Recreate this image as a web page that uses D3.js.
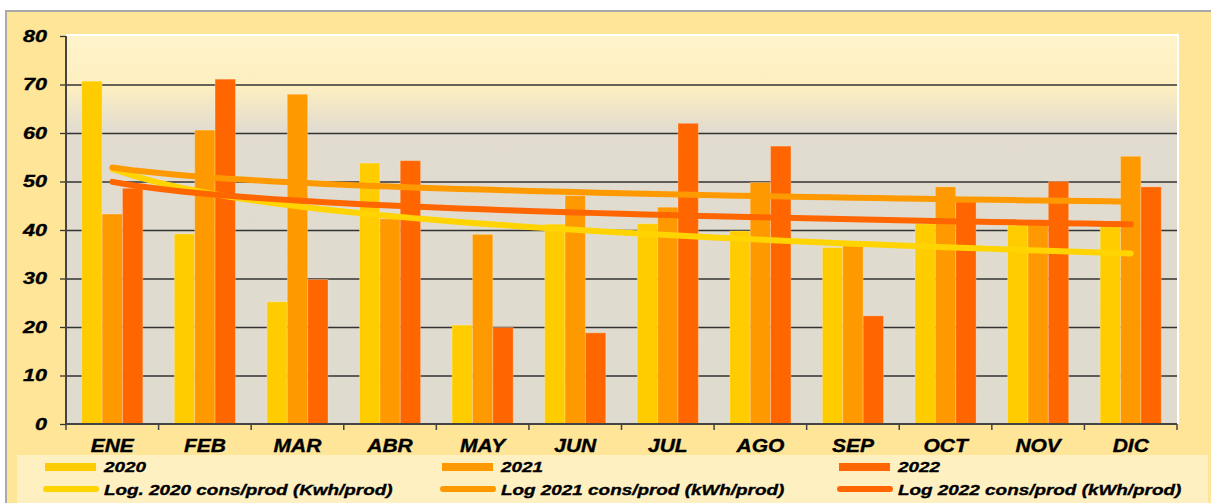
<!DOCTYPE html>
<html>
<head>
<meta charset="utf-8">
<script src="https://cdn.jsdelivr.net/npm/d3@7"></script>
<style>
  body { margin: 0; background: #fff; }
  text { font-family: "Liberation Sans", Arial, sans-serif; font-weight: bold; font-style: italic; fill: #000; stroke: #000; stroke-width: 0.35px; }
</style>
</head>
<body>
<div id="viz"></div>
<script>
(function () {
  var months = ['ENE', 'FEB', 'MAR', 'ABR', 'MAY', 'JUN', 'JUL', 'AGO', 'SEP', 'OCT', 'NOV', 'DIC'];
  var years = ['2020', '2021', '2022'];
  var v2020 = [70.7, 39.2, 25.2, 53.8, 20.4, 41.2, 41.3, 39.8, 36.4, 41.3, 41.0, 40.7];
  var v2021 = [43.3, 60.6, 68.0, 42.3, 39.1, 47.1, 44.7, 49.8, 37.2, 48.9, 41.8, 55.2];
  var v2022 = [48.6, 71.1, 29.8, 54.3, 19.9, 18.8, 62.0, 57.3, 22.3, 45.8, 50.0, 48.9];
  var yTicks = [0, 10, 20, 30, 40, 50, 60, 70, 80];
  var trendLabels = ['Log. 2020 cons/prod (Kwh/prod)', 'Log 2021 cons/prod (kWh/prod)', 'Log 2022 cons/prod (kWh/prod)'];

  var series = [v2020, v2021, v2022];
  var barColors = ['#FFCC00', '#FF9900', '#FF6600'];
  var trendColors = ['#FFD400', '#FF9900', '#FF6600'];

  var width = 1211, height = 503;
  var plot = {left: 66, right: 1177, top: 36, bottom: 424};

  var svg = d3.select('#viz').append('svg')
    .attr('width', width)
    .attr('height', height);

  var defs = svg.append('defs');
  var grad = defs.append('linearGradient')
    .attr('id', 'plotbg')
    .attr('x1', 0).attr('y1', 0).attr('x2', 0).attr('y2', 1);
  grad.append('stop').attr('offset', '0').attr('stop-color', '#FFF3CA');
  grad.append('stop').attr('offset', '0.13').attr('stop-color', '#FEEFC0');
  grad.append('stop').attr('offset', '0.24').attr('stop-color', '#E1DCCF');
  grad.append('stop').attr('offset', '1').attr('stop-color', '#E0DBCF');

  // outer frame
  svg.append('rect')
    .attr('x', 6).attr('y', 11)
    .attr('width', width).attr('height', height)
    .attr('fill', '#FFE597')
    .attr('stroke', '#A9A9A9')
    .attr('stroke-width', 2);

  var x = d3.scaleBand()
    .domain(months)
    .range([plot.left, plot.right])
    .paddingInner(0.34)
    .paddingOuter(0.17);

  var xYear = d3.scaleBand()
    .domain(years)
    .range([0, x.bandwidth()]);

  var y = d3.scaleLinear()
    .domain([0, 80])
    .range([plot.bottom, plot.top]);

  // plot background
  svg.append('rect')
    .attr('x', plot.left).attr('y', plot.top)
    .attr('width', plot.right - plot.left)
    .attr('height', plot.bottom - plot.top)
    .attr('fill', 'url(#plotbg)');
  svg.append('path')
    .attr('d', 'M' + plot.left + ',' + (plot.top - 1) + 'H' + (plot.right + 1) + 'V' + plot.bottom)
    .attr('fill', 'none')
    .attr('stroke', '#fff')
    .attr('stroke-width', 2);

  // grid + y axis
  svg.append('g')
    .selectAll('line')
    .data(yTicks.filter(function(d){ return d > 0 && d < 80; }))
    .enter().append('line')
    .attr('x1', plot.left).attr('x2', plot.right)
    .attr('y1', function(d){ return y(d) + 0.5; })
    .attr('y2', function(d){ return y(d) + 0.5; })
    .attr('stroke', '#333')
    .attr('stroke-width', 1.3);

  svg.append('g')
    .selectAll('line')
    .data(yTicks)
    .enter().append('line')
    .attr('x1', plot.left - 6).attr('x2', plot.left)
    .attr('y1', function(d){ return y(d) + 0.5; })
    .attr('y2', function(d){ return y(d) + 0.5; })
    .attr('stroke', '#333')
    .attr('stroke-width', 1.3);

  svg.append('g')
    .selectAll('text')
    .data(yTicks)
    .enter().append('text')
    .attr('transform', function(d){ return 'translate(47,' + (y(d) + 5.5) + ') scale(1.35,1)'; })
    .attr('text-anchor', 'end')
    .style('font-size', '16px')
    .text(function(d){ return d; });

  // bars
  var groups = svg.append('g')
    .selectAll('g')
    .data(months)
    .enter().append('g')
    .attr('transform', function(d){ return 'translate(' + x(d) + ',0)'; });

  groups.selectAll('rect')
    .data(function(m, i){ return years.map(function(yr, j){ return {year: yr, value: series[j][i], k: j}; }); })
    .enter().append('rect')
    .attr('x', function(d){ return xYear(d.year); })
    .attr('width', xYear.bandwidth())
    .attr('y', function(d){ return y(d.value); })
    .attr('height', function(d){ return y(0) - y(d.value); })
    .attr('fill', function(d){ return barColors[d.k]; })
    .attr('stroke', 'rgba(255,255,255,0.25)')
    .attr('stroke-width', 1);

  // axes lines
  svg.append('line')
    .attr('x1', plot.left).attr('x2', plot.left)
    .attr('y1', plot.top).attr('y2', plot.bottom)
    .attr('stroke', '#444').attr('stroke-width', 2);
  svg.append('line')
    .attr('x1', plot.left).attr('x2', plot.right)
    .attr('y1', plot.bottom).attr('y2', plot.bottom)
    .attr('stroke', '#444').attr('stroke-width', 2);

  var step = x.step();
  var bounds = months.map(function(m){ return x(m) - step * x.paddingInner() / 2; });
  bounds.push(plot.right);
  svg.append('g')
    .selectAll('line')
    .data(bounds)
    .enter().append('line')
    .attr('x1', function(d){ return d; }).attr('x2', function(d){ return d; })
    .attr('y1', plot.bottom).attr('y2', plot.bottom + 6)
    .attr('stroke', '#444').attr('stroke-width', 1.5);

  svg.append('g')
    .selectAll('text')
    .data(months)
    .enter().append('text')
    .attr('transform', function(d){ return 'translate(' + (x(d) + x.bandwidth() / 2) + ',452) scale(1.2,1)'; })
    .attr('text-anchor', 'middle')
    .style('font-size', '17.5px')
    .text(function(d){ return d; });

  // logarithmic trend lines (least squares on ln(x))
  function logFit(vals){
    var lx = vals.map(function(v, i){ return Math.log(i + 1); });
    var mx = d3.mean(lx), my = d3.mean(vals);
    var sxy = d3.sum(vals, function(v, i){ return (lx[i] - mx) * (v - my); });
    var sxx = d3.sum(lx, function(l){ return (l - mx) * (l - mx); });
    var b = sxy / sxx;
    var a = my - b * mx;
    return function(t){ return a + b * Math.log(t); };
  }

  var xCont = d3.scaleLinear()
    .domain([1, 12])
    .range([x(months[0]) + x.bandwidth() / 2, x(months[11]) + x.bandwidth() / 2]);

  var line = d3.line()
    .x(function(d){ return xCont(d[0]); })
    .y(function(d){ return y(d[1]); });

  series.forEach(function(vals, k){
    var f = logFit(vals);
    var pts = d3.range(1, 12.01, 0.25).map(function(t){ return [t, f(t)]; });
    svg.append('path')
      .datum(pts)
      .attr('d', line)
      .attr('fill', 'none')
      .attr('stroke', trendColors[k])
      .attr('stroke-width', 6)
      .attr('stroke-linecap', 'round');
  });

  // legend
  svg.append('rect')
    .attr('x', 17).attr('y', 455)
    .attr('width', 1191).attr('height', 60)
    .attr('fill', '#FFF0C2');

  var legend = svg.append('g')
    .selectAll('g')
    .data(years)
    .enter().append('g')
    .attr('transform', function(d, i){ return 'translate(' + (45 + i * 397) + ',0)'; });

  legend.append('rect')
    .attr('x', 0).attr('y', 463)
    .attr('width', 51).attr('height', 8)
    .attr('fill', function(d, i){ return barColors[i]; });

  legend.append('line')
    .attr('x1', 1).attr('x2', 51)
    .attr('y1', 489).attr('y2', 489)
    .attr('stroke', function(d, i){ return trendColors[i]; })
    .attr('stroke-width', 6)
    .attr('stroke-linecap', 'round');

  legend.append('text')
    .attr('transform', 'translate(59,472) scale(1.22,1)')
    .style('font-size', '15.5px')
    .text(function(d){ return d; });

  legend.append('text')
    .attr('transform', 'translate(59,495) scale(1.22,1)')
    .style('font-size', '15.5px')
    .text(function(d, i){ return trendLabels[i]; });
})();
</script>
</body>
</html>
